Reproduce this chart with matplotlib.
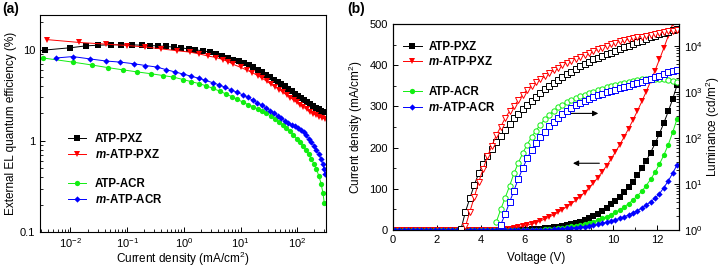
import numpy as np
import matplotlib
matplotlib.use("Agg")
import matplotlib.pyplot as plt
from matplotlib.lines import Line2D
from matplotlib.ticker import MultipleLocator, LogLocator, NullFormatter

plt.rcParams['font.family'] = ['Liberation Sans', 'DejaVu Sans']
plt.rcParams['mathtext.fontset'] = 'custom'
plt.rcParams['mathtext.rm'] = 'Liberation Sans'
plt.rcParams['mathtext.it'] = 'Liberation Sans:italic:bold'
plt.rcParams['mathtext.bf'] = 'Liberation Sans:bold'

names = ['ATP-PXZ', r'$m$-ATP-PXZ', 'ATP-ACR', r'$m$-ATP-ACR']
colors = ['black', '#ff0000', '#11ee11', '#0000ff']

# ---- (a) EQE vs current density ----
j_pxz = [0.0035, 0.01, 0.0186, 0.031, 0.051, 0.079, 0.12, 0.18, 0.25, 0.35, 0.49, 0.67, 0.9, 1.22, 1.6,
         2.2, 2.9, 3.7, 4.7, 5.9, 7.4, 9.2, 11.3, 13.8, 16.7, 20, 24, 28.5, 33.5, 39, 45, 52, 60, 69, 79,
         90, 102, 116, 131, 148, 167, 188, 211, 236, 264, 295, 310]
eqe_pxz = [9.9, 10.5, 11.0, 11.2, 11.3, 11.3, 11.3, 11.2, 11.1, 11.0, 10.85, 10.65, 10.45, 10.2, 9.95,
           9.7, 9.4, 9.0, 8.6, 8.2, 7.8, 7.45, 7.1, 6.75, 6.4, 6.05, 5.7, 5.3, 5.0, 4.7, 4.45, 4.2, 3.95,
           3.72, 3.5, 3.3, 3.12, 2.95, 2.8, 2.66, 2.53, 2.42, 2.32, 2.23, 2.15, 2.08, 2.05]

j_mpxz = [0.0038, 0.0142, 0.042, 0.1, 0.21, 0.4, 0.74, 1.27, 1.84, 2.7, 3.7, 4.8, 6.0, 7.4, 10, 13, 16,
          20, 24, 29, 35, 41, 48, 56, 65, 75, 86, 98, 112, 128, 146, 166, 189, 215, 244, 276, 305]
eqe_mpxz = [12.9, 12.0, 11.5, 11.1, 10.7, 10.2, 9.75, 9.4, 9.0, 8.5, 8.2, 7.8, 7.4, 6.9, 6.4, 5.95,
            5.6, 5.2, 4.85, 4.5, 4.15, 3.9, 3.65, 3.4, 3.18, 2.98, 2.8, 2.64, 2.48, 2.34, 2.21, 2.09,
            1.99, 1.91, 1.84, 1.78, 1.74]

j_acr = [0.0033, 0.011, 0.0235, 0.046, 0.085, 0.15, 0.26, 0.43, 0.65, 0.97, 1.36, 1.83, 2.5, 3.3, 4.3,
         5.5, 7.0, 8.8, 11, 13.5, 16.5, 20, 24, 28.5, 34, 40, 47, 55, 64, 74, 85, 97, 110, 125, 141,
         158, 176, 196, 217, 240, 262, 282, 298]
eqe_acr = [8.1, 7.3, 6.8, 6.35, 6.0, 5.7, 5.45, 5.2, 5.0, 4.7, 4.45, 4.25, 4.0, 3.75, 3.5, 3.27, 3.05,
           2.85, 2.65, 2.5, 2.37, 2.24, 2.12, 2.0, 1.87, 1.75, 1.62, 1.5, 1.38, 1.27, 1.16, 1.06, 0.97,
           0.88, 0.79, 0.71, 0.63, 0.56, 0.49, 0.41, 0.34, 0.27, 0.21]

j_macr = [0.0055, 0.011, 0.0225, 0.043, 0.076, 0.133, 0.21, 0.33, 0.48, 0.69, 0.97, 1.36, 1.85, 2.4,
          3.2, 4.2, 5.4, 6.9, 8.7, 10.8, 13.3, 16.2, 19.6, 23.5, 28, 33, 39, 45, 52, 60, 69, 79, 90, 102,
          115, 129, 144, 160, 177, 196, 216, 238, 260, 280, 295, 305]
eqe_macr = [8.1, 8.4, 7.9, 7.5, 7.3, 7.0, 6.7, 6.45, 6.05, 5.7, 5.4, 5.1, 4.85, 4.6, 4.35, 4.1, 3.85,
            3.6, 3.4, 3.2, 3.0, 2.8, 2.62, 2.45, 2.3, 2.15, 2.0, 1.88, 1.76, 1.66, 1.57, 1.5, 1.47, 1.4,
            1.33, 1.25, 1.15, 1.05, 0.97, 0.88, 0.8, 0.72, 0.64, 0.56, 0.49, 0.43]

# ---- (b) J-V-L ----
volt = np.round(np.arange(0.1, 13.0, 0.2), 1)

jv_pxz = [0] * 28 + [0.3, 0.6, 1, 1.5, 2.1, 2.9, 3.8, 4.9, 6.2, 7.7, 9.5, 11.5, 14, 17, 20.5, 24.5, 29,
                     34, 40, 46.5, 54, 62, 71, 81, 92, 104, 117, 133, 150, 168, 188, 210, 234, 260, 288,
                     318, 352]
jv_mpxz = [0] * 22 + [0.3, 0.8, 1.5, 2.4, 3.5, 5, 6.8, 9, 11.5, 14.5, 18, 22, 26.5, 31.5, 37, 43, 49.5,
                      56.5, 64, 72, 81, 91, 102, 114, 127, 141, 156, 172, 189, 207, 226, 246, 267, 289,
                      312, 336, 361, 387, 414, 442, 471, 501, 532]
jv_acr = [0] * 31 + [0.3, 0.7, 1.2, 1.8, 2.5, 3.3, 4.3, 5.5, 6.9, 8.5, 10.3, 12.4, 14.8, 17.5, 20.5, 24,
                     28, 32.5, 37.5, 43, 49, 56, 64, 73, 83, 94, 108, 123, 140, 160, 182, 207, 237, 270]
jv_macr = [0] * 33 + [0.3, 0.7, 1.1, 1.6, 2.2, 2.9, 3.7, 4.6, 5.7, 6.9, 8.3, 9.9, 11.7, 13.7, 16, 18.5,
                      21.5, 24.5, 28, 32, 36.5, 41.5, 47, 53.5, 60.5, 68.5, 77.5, 88, 103, 119, 138, 158]

lum_pxz = [1.05, 2.5, 4.9, 9.5, 17, 27, 41, 58, 83, 112, 152, 205, 270, 335, 420, 530, 650, 780, 940,
           1150, 1380, 1600, 1830, 2080, 2400, 2750, 3150, 3600, 4050, 4550, 5100, 5600, 6100, 6650,
           7200, 7900, 8600, 9400, 10200, 11100, 12000, 13000, 14200, 15300, 16500, 17800, 19200,
           20600, 22000, 23300]
lum_mpxz = [1.2, 2.5, 5.2, 11, 21, 40, 68, 115, 175, 270, 380, 500, 660, 880, 1120, 1380, 1620, 1880,
            2200, 2550, 2950, 3400, 3850, 4300, 4800, 5300, 5850, 6400, 7000, 7700, 8400, 9200, 10100,
            11000, 11800, 12500, 13200, 13900, 14600, 15300, 16000, 16700, 17500, 18300, 19100, 19900,
            20700, 21500, 22300]
lum_acr = [1.5, 2.8, 5, 9, 17, 29, 47, 72, 105, 145, 195, 255, 320, 390, 460, 530, 600, 670, 740, 810,
           880, 950, 1020, 1100, 1180, 1260, 1340, 1420, 1500, 1580, 1660, 1740, 1810, 1870, 1910, 1930,
           1930, 1910, 1870, 1810, 1740, 1660]
lum_macr = [1.3, 2.2, 4, 7.2, 13, 22, 36, 55, 79, 105, 138, 178, 222, 275, 330, 390, 450, 510, 575, 640,
            705, 770, 840, 910, 980, 1050, 1120, 1200, 1280, 1370, 1460, 1560, 1660, 1780, 1920, 2080,
            2250, 2450, 2650, 2820, 2950]

fig = plt.figure(figsize=(7.22, 2.71), dpi=100)

# panel (a)
ax1 = fig.add_axes([40 / 722, 39 / 271, 286 / 722, 217 / 271])
eqe_sets = [(j_pxz, eqe_pxz, 's'), (j_mpxz, eqe_mpxz, 'v'), (j_acr, eqe_acr, 'o'), (j_macr, eqe_macr, 'D')]
for (jx, ey, mk), c, nm in zip(eqe_sets, colors, names):
    ms = 3.2 if mk == 'D' else 3.8
    ax1.plot(jx, ey, marker=mk, color=c, ms=ms, lw=0.7, mew=0, label=nm)
ax1.set_xscale('log')
ax1.set_yscale('log')
ax1.set_xlim(0.0029, 320)
ax1.set_ylim(0.1, 24)
ax1.set_yticks([0.1, 1, 10])
ax1.set_yticklabels(['0.1', '1', '10'])
ax1.xaxis.set_major_locator(LogLocator(base=10, numticks=10))
ax1.tick_params(which='both', direction='in', labelsize=8, right=False, top=False)
ax1.tick_params(which='major', length=3.5, width=0.7)
ax1.tick_params(which='minor', length=2, width=0.6)
ax1.tick_params(axis='x', pad=3)
ax1.set_xlabel('Current density (mA/cm$^2$)', fontsize=8.5, labelpad=0)
ax1.set_ylabel('External EL quantum efficiency (%)', fontsize=8.5, labelpad=2)

h = ax1.get_lines()
blank = Line2D([], [], color='none')
ax1.legend([h[0], h[1], blank, h[2], h[3]], [names[0], names[1], '', names[2], names[3]],
           loc='upper left', bbox_to_anchor=(0.06, 0.505), frameon=False, handlelength=1.6,
           handletextpad=0.8, labelspacing=0.25, prop={'weight': 'bold', 'size': 8.3})

# panel (b)
ax2 = fig.add_axes([392.7 / 722, 41 / 271, 286.6 / 722, 206 / 271])
ax3 = ax2.twinx()
jv_sets = [(jv_pxz, 's'), (jv_mpxz, 'v'), (jv_acr, 'o'), (jv_macr, 'D')]
for (jy, mk), c, nm in zip(jv_sets, colors, names):
    ms = 3.2 if mk == 'D' else 3.8
    ax2.plot(volt, jy, marker=mk, color=c, ms=ms, lw=0.7, mew=0, label=nm)

lum_sets = [(lum_pxz, 's'), (lum_mpxz, 'v'), (lum_acr, 'o'), (lum_macr, 's')]
for (ly, mk), c in zip(lum_sets, colors):
    ax3.plot(volt[-len(ly):], ly, marker=mk, color=c, ms=3.8, lw=0.7, mfc='white', mew=0.7)

ax2.set_xlim(0, 13)
ax2.set_ylim(0, 500)
ax3.set_yscale('log')
ax3.set_ylim(1, 3e4)
ax2.xaxis.set_major_locator(MultipleLocator(2))
ax2.xaxis.set_minor_locator(MultipleLocator(1))
ax2.yaxis.set_major_locator(MultipleLocator(100))
ax2.yaxis.set_minor_locator(MultipleLocator(50))
ax3.yaxis.set_major_locator(LogLocator(base=10, numticks=10))
ax3.yaxis.set_minor_locator(LogLocator(base=10, subs=np.arange(2, 10), numticks=10))
ax3.yaxis.set_minor_formatter(NullFormatter())
for a in (ax2, ax3):
    a.tick_params(which='both', direction='in', labelsize=8)
    a.tick_params(which='major', length=3.5, width=0.7)
    a.tick_params(which='minor', length=2, width=0.6)
ax2.tick_params(which='both', right=False, top=False)
ax2.set_xlabel('Voltage (V)', fontsize=8.5, labelpad=5)
ax2.set_ylabel('Current density (mA/cm$^2$)', fontsize=8.5, labelpad=3)
ax3.set_ylabel('Luminance (cd/m$^2$)', fontsize=8.5, labelpad=0.5)

ax2.annotate('', xy=(9.45, 283), xytext=(7.85, 283),
             arrowprops=dict(arrowstyle='-|>', color='black', lw=0.8, mutation_scale=8))
ax2.annotate('', xy=(8.05, 162), xytext=(9.5, 162),
             arrowprops=dict(arrowstyle='-|>', color='black', lw=0.8, mutation_scale=8))

h2 = ax2.get_lines()
ax2.legend([h2[0], h2[1], blank, h2[2], h2[3]], [names[0], names[1], '', names[2], names[3]],
           loc='upper left', bbox_to_anchor=(0.0, 0.97), frameon=False, handlelength=1.6,
           handletextpad=0.6, labelspacing=0.25, prop={'weight': 'bold', 'size': 8.3})

for a in (ax1, ax2, ax3):
    for s in a.spines.values():
        s.set_linewidth(0.8)

fig.text(2 / 722, 1 - 9 / 271, '(a)', fontsize=10, fontweight='bold', va='center')
fig.text(347 / 722, 1 - 9 / 271, '(b)', fontsize=10, fontweight='bold', va='center')

fig.savefig('out.png', dpi=100)
